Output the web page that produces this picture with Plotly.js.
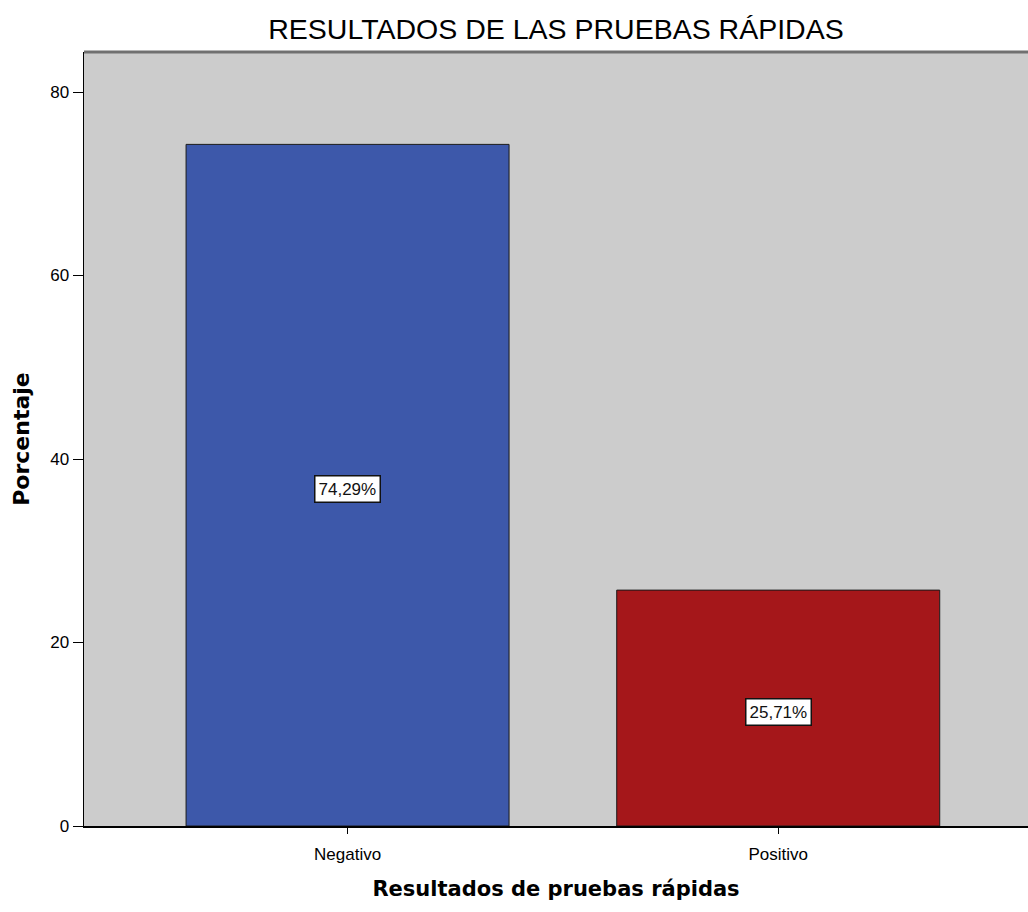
<!DOCTYPE html>
<html>
<head>
<meta charset="utf-8">
<script src="https://cdn.plot.ly/plotly-3.0.1.min.js"></script>
<style>html,body{margin:0;padding:0;background:#fff;}#chart{width:1028px;height:912px;}</style>
</head>
<body>
<div id="chart"></div>
<script>
var categories = ["Negativo", "Positivo"];
var percentages = [74.29, 25.71];
var labels = ["74,29%", "25,71%"];
var barColors = ["#3d58aa", "#a5171a"];
var yTicks = [0, 20, 40, 60, 80];

var trace = {
  type: "bar",
  x: categories,
  y: percentages,
  width: 0.75,
  marker: {color: barColors, line: {color: "#1a1a1a", width: 1}},
  hoverinfo: "none"
};

var annotations = categories.map(function(c, i) {
  return {
    x: c, y: percentages[i] / 2, xref: "x", yref: "y", yshift: -4,
    text: labels[i], showarrow: false,
    font: {family: "Liberation Sans, Arial", size: 17, color: "#111"},
    bgcolor: "#ffffff", bordercolor: "#111111", borderwidth: 1.5, borderpad: 3
  };
});

var layout = {
  width: 1028, height: 912,
  margin: {l: 84, r: 0, t: 52, b: 86},
  paper_bgcolor: "#ffffff",
  plot_bgcolor: "#cccccc",
  showlegend: false,
  title: {
    text: "RESULTADOS DE LAS PRUEBAS RÁPIDAS",
    x: 0.5, xref: "paper", y: 0.968, yanchor: "middle",
    font: {family: "Liberation Sans, Arial", size: 28.5, color: "#000"}
  },
  xaxis: {
    type: "category",
    range: [-0.612, 1.58],
    showgrid: false, zeroline: false,
    showline: true, linecolor: "#000", linewidth: 1.5,
    ticks: "outside", ticklen: 6, tickcolor: "#000",
    ticklabelstandoff: 6,
    tickfont: {family: "Liberation Sans, Arial", size: 17, color: "#000"},
    title: {text: "Resultados de pruebas rápidas", standoff: 18,
      font: {family: "DejaVu Sans, Verdana", size: 21, color: "#000", weight: "bold"}}
  },
  yaxis: {
    range: [0, 84.36],
    tickvals: yTicks,
    showgrid: false, zeroline: false,
    showline: true, linecolor: "#000", linewidth: 1.5,
    ticks: "outside", ticklen: 10, tickcolor: "#000",
    tickfont: {family: "Liberation Sans, Arial", size: 17, color: "#000"},
    title: {text: "Porcentaje", standoff: 14,
      font: {family: "DejaVu Sans, Verdana", size: 22, color: "#000", weight: "bold"}}
  },
  annotations: annotations,
  shapes: [{
    type: "line", xref: "paper", yref: "paper", x0: 0, x1: 1, y0: 1, y1: 1,
    line: {color: "#707070", width: 3}
  }]
};

Plotly.newPlot("chart", [trace], layout, {displayModeBar: false, staticPlot: true});
</script>
</body>
</html>
